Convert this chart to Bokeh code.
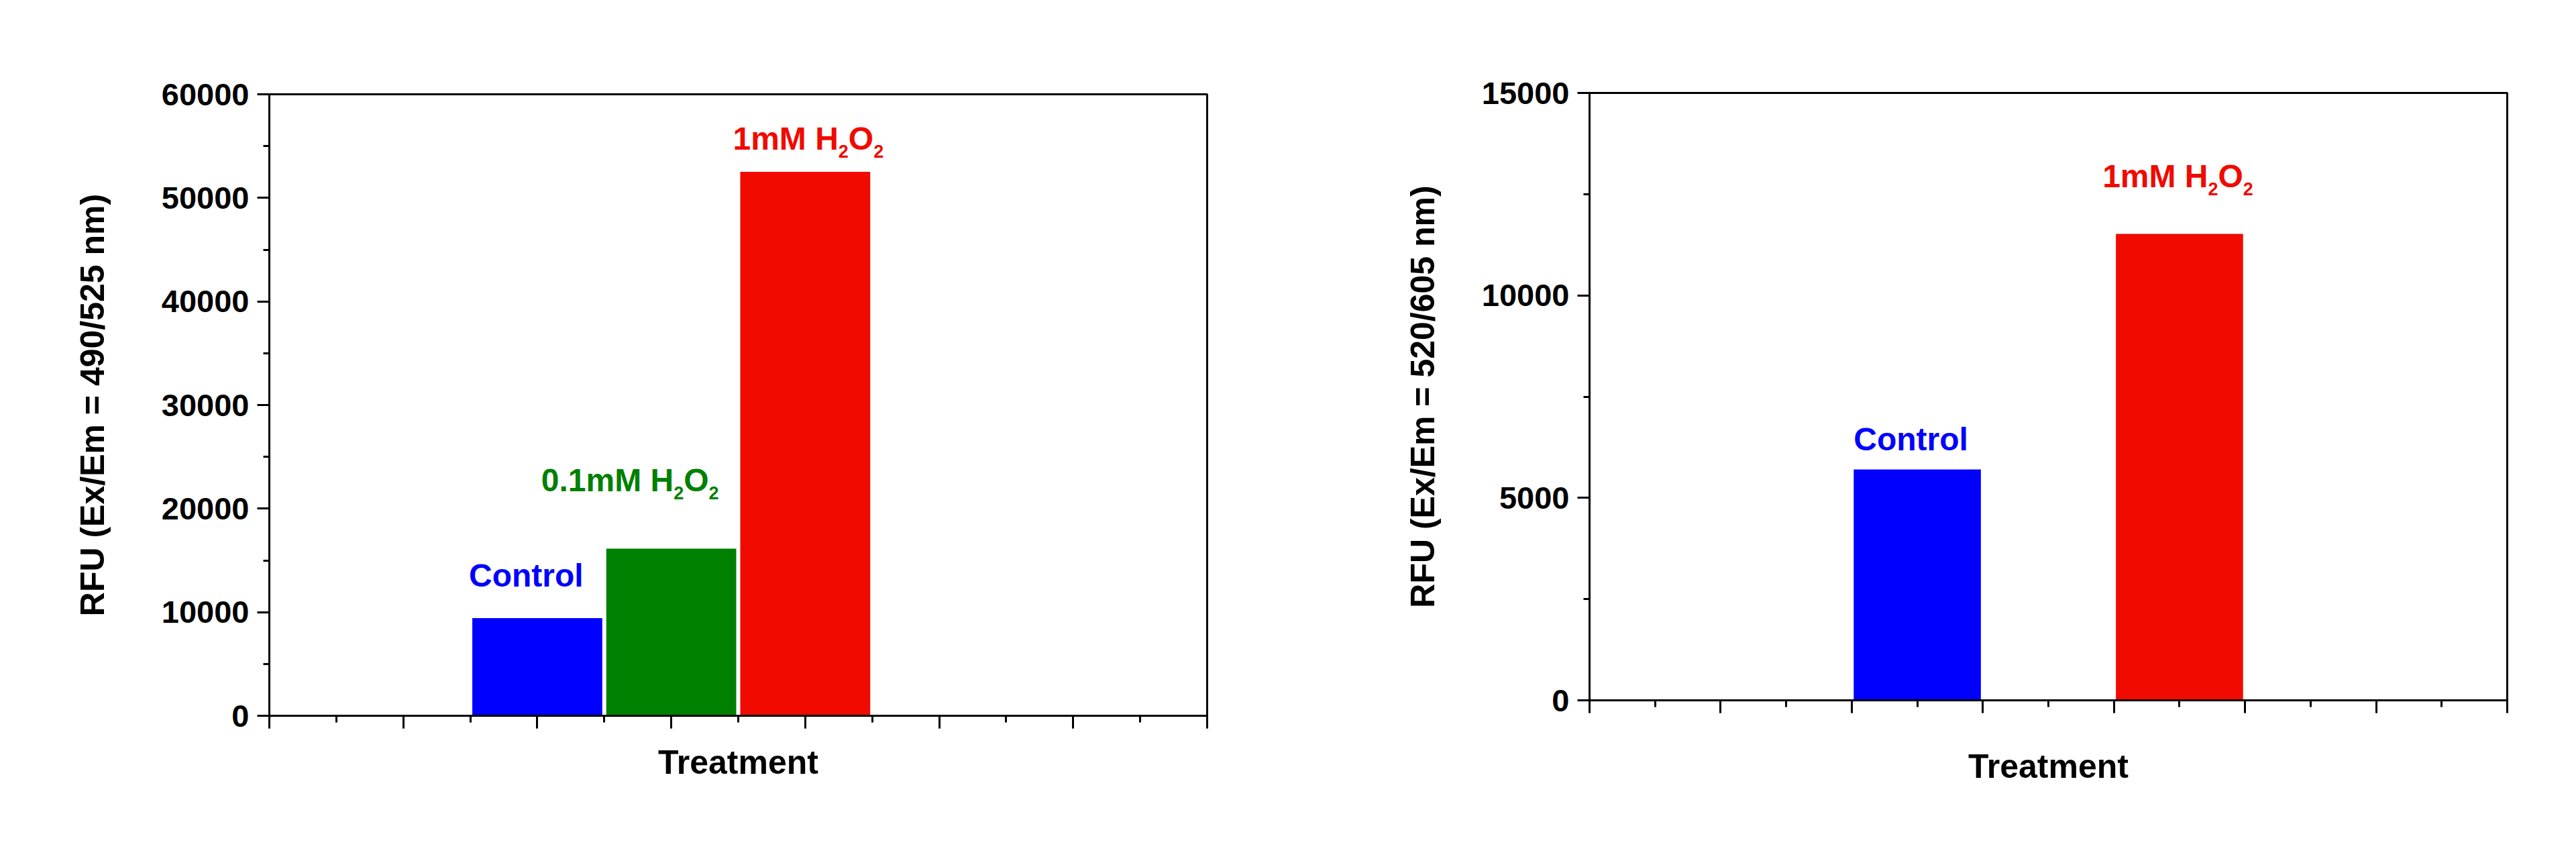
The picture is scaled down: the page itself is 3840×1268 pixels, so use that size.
from bokeh.plotting import figure
from bokeh.layouts import row, column
from bokeh.models import FixedTicker, NumeralTickFormatter, ColumnDataSource, Range1d, CustomJSTickFormatter
from bokeh.core.properties import value
from bokeh.embed import file_html
from bokeh.resources import INLINE

FONT = "Liberation Sans"

# ---------------- data ----------------
# left panel (Ex/Em = 490/525 nm)
left_positions = [2, 3, 4]
left_values = [9420, 16140, 52520]
left_colors = ["#0000FF", "#008000", "#F00A00"]
left_labels = [
    [("Control", False)],
    [("0.1mM H", False), ("2", True), ("O", False), ("2", True)],
    [("1mM H", False), ("2", True), ("O", False), ("2", True)],
]
left_yticks = [0, 10000, 20000, 30000, 40000, 50000, 60000]
left_yminor = [5000, 15000, 25000, 35000, 45000, 55000]
left_ylabel = "RFU (Ex/Em = 490/525 nm)"

# right panel (Ex/Em = 520/605 nm)
right_positions = [2.5, 4.5]
right_values = [5700, 11520]
right_colors = ["#0000FF", "#F00A00"]
right_labels = [
    [("Control", False)],
    [("1mM H", False), ("2", True), ("O", False), ("2", True)],
]
right_yticks = [0, 5000, 10000, 15000]
right_yminor = [2500, 7500, 12500]
right_ylabel = "RFU (Ex/Em = 520/605 nm)"

xlabel = "Treatment"
x_major = [0, 1, 2, 3, 4, 5, 6, 7]
x_minor = [0.5, 1.5, 2.5, 3.5, 4.5, 5.5, 6.5]

# ---------------- styling / layout ----------------
MAIN_SIZE = 48
SUB_SIZE = 27
SUB_DROP = 19
BAR_WIDTH = 0.97

# label placement relative to bar's left edge / top (pixels)
left_label_offsets = [(-5, -64), (-97, -102), (-11, -49)]
right_label_offsets = [(0, -45), (-20, -86)]

# Arial/Liberation Sans Bold advance widths (per 1000 em)
ADV = {'0': 556, '1': 556, '2': 556, '.': 278, 'm': 889, 'M': 833, ' ': 278,
       'H': 722, 'O': 778, 'C': 722, 'o': 611, 'n': 611, 't': 333, 'r': 389, 'l': 278}


def text_width(s, size):
    return sum(ADV.get(c, 556) for c in s) * size / 1000.0


def make_panel(width, height, borders, positions, values, colors, ymax, yticks, yminor,
               ylabel, labels, label_offsets, ylabel_standoff, xlabel_standoff):
    bl, br, bt, bb = borders
    p = figure(width=width, height=height, x_range=Range1d(0, 7), y_range=Range1d(0, ymax),
               output_backend="svg", toolbar_location=None,
               min_border_left=bl, min_border_right=br, min_border_top=bt, min_border_bottom=bb)
    p.background_fill_color = "white"
    p.border_fill_color = "white"
    p.grid.visible = False
    p.outline_line_color = "black"
    p.outline_line_width = 3

    src = ColumnDataSource(dict(x=positions, top=values, color=colors))
    p.vbar(x='x', top='top', bottom=0, width=BAR_WIDTH, fill_color='color', line_color=None, source=src)

    # labels composed of segments (with subscripts)
    for xi, yi, col, segs, (ox, oy) in zip(positions, values, colors, labels, label_offsets):
        cur = 0.0
        for txt, sub in segs:
            size = SUB_SIZE if sub else MAIN_SIZE
            p.text(x=[xi - BAR_WIDTH / 2], y=[yi], text=[txt],
                   x_offset=ox + cur, y_offset=oy + (SUB_DROP if sub else 0),
                   text_font=value(FONT), text_font_style="bold",
                   text_font_size=f"{size}px", text_color=col,
                   text_align="left", text_baseline="alphabetic")
            cur += text_width(txt, size)

    # y axis
    ya = p.yaxis[0]
    ya.ticker = FixedTicker(ticks=yticks, minor_ticks=yminor)
    ya.formatter = NumeralTickFormatter(format="0")
    ya.axis_label = ylabel
    ya.axis_label_text_font = FONT
    ya.axis_label_text_font_style = "bold"
    ya.axis_label_text_font_size = "50px"
    ya.axis_label_text_color = "black"
    ya.axis_label_standoff = ylabel_standoff
    ya.major_label_text_font = FONT
    ya.major_label_text_font_style = "bold"
    ya.major_label_text_font_size = "47px"
    ya.major_label_text_color = "black"
    ya.major_label_standoff = 12
    ya.axis_line_width = 3
    ya.major_tick_line_width = 3
    ya.minor_tick_line_width = 3
    ya.major_tick_out = 18
    ya.major_tick_in = 0
    ya.minor_tick_out = 9
    ya.minor_tick_in = 0

    # x axis (ticks without labels)
    xa = p.xaxis[0]
    xa.ticker = FixedTicker(ticks=x_major, minor_ticks=x_minor)
    xa.formatter = CustomJSTickFormatter(code="return '';")
    xa.major_label_text_font = FONT
    xa.major_label_text_font_size = "20px"
    xa.major_label_standoff = 0
    xa.axis_line_width = 3
    xa.major_tick_line_width = 3
    xa.minor_tick_line_width = 3
    xa.major_tick_out = 19
    xa.major_tick_in = 0
    xa.minor_tick_out = 10
    xa.minor_tick_in = 0
    xa.axis_label = xlabel
    xa.axis_label_text_font = FONT
    xa.axis_label_text_font_style = "bold"
    xa.axis_label_text_font_size = "50px"
    xa.axis_label_text_color = "black"
    xa.axis_label_standoff = xlabel_standoff
    return p


p1 = make_panel(1920, 1260, (401, 121, 140, 194), left_positions, left_values, left_colors,
                60000, left_yticks, left_yminor, left_ylabel, left_labels, left_label_offsets, 72, 22)
p2 = make_panel(1916, 1260, (449, 99, 138, 217), right_positions, right_values, right_colors,
                15000, right_yticks, right_yminor, right_ylabel, right_labels, right_label_offsets, 57, 51)

layout = row(column(p1), column(p2))
open("out.html", "w").write(file_html(layout, INLINE))
